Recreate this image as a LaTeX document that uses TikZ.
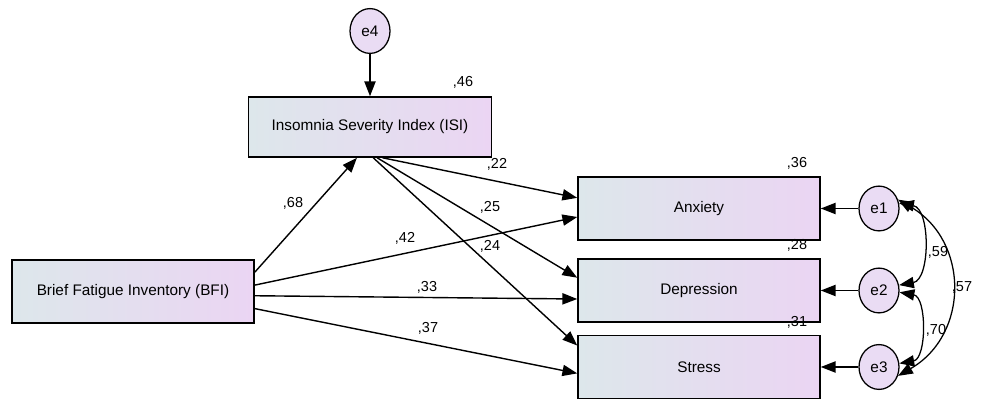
\documentclass[tikz,border=0pt]{standalone}
\usepackage{fontspec}
\setmainfont{Liberation Sans}
\usetikzlibrary{arrows.meta,shapes.geometric}
\definecolor{boxleft}{RGB}{221,231,235}
\definecolor{boxright}{RGB}{235,213,243}
\definecolor{errfill}{RGB}{234,220,244}

\begin{document}
\begin{tikzpicture}[>={Triangle[length=3.7mm,width=2.8mm]},
  obs/.style={draw, line width=1.1pt, left color=boxleft, right color=boxright,
    minimum width=6.05cm, minimum height=1.575cm, font=\fontsize{10.9}{13}\selectfont},
  err/.style={draw, ellipse, line width=0.9pt, fill=errfill, minimum width=1.0cm,
    minimum height=1.12cm, inner sep=0pt, font=\fontsize{10.9}{13}\selectfont},
  regpath/.style={->, line width=1pt},
  coef/.style={font=\fontsize{10.3}{12}\selectfont, inner sep=0pt}]
  \useasboundingbox (0,0) rectangle (24.525,10.05);
  % observed variables
  \node[obs, minimum height=1.5cm, minimum width=6.075cm] (isi) at (9.25,6.875) {Insomnia Severity Index (ISI)};
  \node[obs] (bfi) at (3.325,2.7625) {Brief Fatigue Inventory (BFI)};
  \node[obs] (anx) at (17.475,4.8375) {Anxiety};
  \node[obs] (dep) at (17.475,2.7875) {Depression};
  \node[obs] (str) at (17.475,0.875) {Stress};
  % error terms
  \node[err] (e4) at (9.25,9.275) {e4};
  \node[err] (e1) at (21.975,4.8375) {e1};
  \node[err] (e2) at (21.975,2.7875) {e2};
  \node[err] (e3) at (21.975,0.875) {e3};
  % regression paths
  \draw[regpath] (e4) -- (isi);
  \draw[regpath] (bfi.9) -- (isi.-113);
  \draw[regpath] (isi.-68) -- (anx.175);
  \draw[regpath] (isi.-77) -- (dep.174);
  \draw[regpath] (isi.-84) -- (str.170.6);
  \draw[regpath] (bfi.3) -- (anx.184.6);
  \draw[regpath] (bfi.-2.6) -- (dep.184.6);
  \draw[regpath] (bfi.-8.8) -- (str.183.8);
  \draw[regpath] (e1) -- (anx);
  \draw[regpath] (e2) -- (dep);
  \draw[regpath] (e3) -- (str);
  % covariances
  \draw[<->, line width=0.9pt] (e1.15) to[bend left=80] (e2.15);
  \draw[<->, line width=0.9pt] (e2.-5) to[bend left=80] (e3.10);
  \draw[<->, line width=0.9pt] (e1.25) to[bend left=60, looseness=1.2] (e3.-25);
  % estimates
  \node[coef] (r46) at (11.575,8.0) {,46};
  \node[coef] (r36) at (19.925,5.975) {,36};
  \node[coef] (r28) at (19.925,3.925) {,28};
  \node[coef] (r31) at (19.925,2.0) {,31};
  \node[coef] (b22) at (12.425,5.95) {,22};
  \node[coef] (b25) at (12.25,4.875) {,25};
  \node[coef] (b24) at (12.25,3.9) {,24};
  \node[coef] (b42) at (10.125,4.1) {,42};
  \node[coef] (b33) at (10.675,2.875) {,33};
  \node[coef] (b37) at (10.7,1.85) {,37};
  \node[coef] (b68) at (7.325,4.975) {,68};
  \node[coef] (c59) at (23.45,3.75) {,59};
  \node[coef] (c57) at (24.05,2.875) {,57};
  \node[coef] (c70) at (23.4,1.8) {,70};
\end{tikzpicture}
\end{document}
